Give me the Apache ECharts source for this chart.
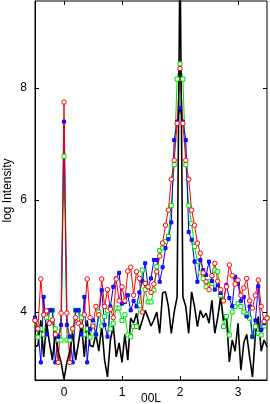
<!DOCTYPE html>
<html><head><meta charset="utf-8">
<script src="https://cdn.jsdelivr.net/npm/echarts@6/dist/echarts.min.js"></script>
<style>html,body{margin:0;padding:0;background:#fff}#c{width:270px;height:404px}</style>
</head><body><div id="c"></div>
<script>
const L = [-0.5,-0.45,-0.4,-0.35,-0.3,-0.25,-0.2,-0.15,-0.1,-0.05,
 0,0.05,0.1,0.15,0.2,0.25,0.3,0.35,0.4,0.45,
 0.5,0.55,0.6,0.65,0.7,0.75,0.8,0.85,0.9,0.95,
 1,1.05,1.1,1.15,1.2,1.25,1.3,1.35,1.4,1.45,
 1.5,1.55,1.6,1.65,1.7,1.75,1.8,1.85,1.9,1.95,
 2,2.05,2.1,2.15,2.2,2.25,2.3,2.35,2.4,2.45,
 2.5,2.55,2.6,2.65,2.7,2.75,2.8,2.85,2.9,2.95,
 3,3.05,3.1,3.15,3.2,3.25,3.3,3.35,3.4,3.45,3.5];
const red = [3.85,3.70,4.59,3.95,4.02,3.80,3.86,3.60,3.10,3.98,
 7.75,3.98,3.10,3.70,3.90,3.80,3.75,3.95,4.59,3.90,
 3.75,4.10,3.95,4.59,4.10,4.40,4.05,3.90,4.59,4.20,
 4.45,4.20,4.73,4.80,4.30,4.72,4.60,4.00,4.51,4.45,
 4.35,4.50,4.72,5.00,5.23,5.55,5.82,6.37,6.71,7.37,
 8.35,7.37,6.71,6.37,5.82,5.55,5.23,5.05,4.70,4.54,
 4.40,4.65,4.87,4.55,4.40,4.20,4.45,4.84,4.65,4.50,
 4.57,4.30,4.43,4.60,4.20,4.07,4.30,4.57,4.10,3.83,3.89];
const blue = [3.90,3.70,3.10,4.27,3.60,4.03,4.03,3.10,3.56,3.77,
 7.40,3.77,3.56,3.10,4.03,4.03,3.60,4.27,3.10,3.70,
 3.85,3.60,3.95,4.39,3.77,3.56,4.10,4.45,4.60,4.70,
 4.15,4.18,4.30,4.03,4.20,4.10,4.35,4.55,4.87,4.45,
 4.60,4.93,4.93,4.54,4.80,5.14,5.30,5.60,7.07,7.40,
 7.64,7.40,7.07,5.43,5.29,4.90,4.54,4.93,4.75,4.66,
 4.90,4.55,4.40,4.48,4.34,4.20,4.48,4.25,4.10,4.63,
 4.50,4.20,4.27,3.92,4.10,3.56,3.85,4.46,3.68,3.80,3.90];
const green = [3.85,3.55,3.70,3.60,3.90,4.03,4.03,3.70,3.50,3.50,
 6.78,3.50,3.50,3.70,4.03,4.03,3.90,3.60,3.70,3.55,
 3.80,3.60,4.00,3.75,3.92,4.03,3.70,3.80,4.07,4.07,
 3.85,3.95,3.59,3.56,3.74,3.74,4.12,4.75,4.40,4.18,
 4.18,4.39,4.81,5.10,5.14,5.26,5.35,5.90,6.63,8.16,
 8.43,8.16,6.63,5.90,5.58,5.17,4.90,4.70,4.60,4.45,
 4.55,4.51,4.75,4.72,4.30,3.74,3.92,3.59,4.00,4.10,
 4.15,4.10,4.00,3.95,3.89,3.56,3.74,3.62,3.59,3.75,3.89];
const black = [3.38,3.40,3.85,3.20,3.80,3.45,3.14,3.62,3.30,3.10,
 2.80,3.10,3.30,3.62,3.14,3.45,3.80,3.20,3.85,3.40,
 3.38,3.60,3.30,3.75,3.14,2.84,3.50,3.75,3.20,3.45,
 3.10,3.60,3.14,3.89,3.80,3.98,3.68,3.85,4.03,3.90,
 3.75,3.86,4.00,3.62,4.34,4.36,4.10,3.62,4.00,4.27,
 10.5,4.27,4.10,3.62,4.36,4.10,3.74,4.03,3.90,3.98,
 3.80,4.21,3.62,3.90,4.27,3.85,3.95,3.11,3.50,3.30,
 3.80,2.96,3.45,3.60,3.20,2.84,3.60,3.92,3.30,3.50,3.38];
const xTicks = [0,1,2,3];
const yTicks = [4,6,8];

const pairs = a => a.map((v,i)=>[L[i],v]);
const FONT = 'Liberation Sans';
const chart = echarts.init(document.getElementById('c'), null, {renderer:'canvas'});
const tickStyle = {show:true, inside:true, length:4, lineStyle:{color:'#000', width:1}};
chart.setOption({
  animation:false,
  backgroundColor:'#fff',
  grid:{left:35, right:3, top:1, bottom:24, containLabel:false, outerBoundsMode:'none',
    show:true, borderColor:'#000', borderWidth:1, backgroundColor:'transparent'},
  xAxis:[{type:'value', min:-0.5, max:3.5, position:'bottom',
    name:'00L', nameLocation:'middle', nameGap:13, nameMoveOverlap:false,
    nameTextStyle:{fontFamily:FONT, fontSize:12, color:'#000'},
    axisLine:{show:true, onZero:false, lineStyle:{color:'#000'}},
    axisTick:Object.assign({customValues:xTicks}, tickStyle),
    axisLabel:{customValues:xTicks, fontFamily:FONT, fontSize:12, color:'#000', margin:7},
    splitLine:{show:false}},
   {type:'value', min:-0.5, max:3.5, position:'top',
    axisLine:{show:false, onZero:false}, axisTick:Object.assign({customValues:xTicks}, tickStyle),
    axisLabel:{show:false}, splitLine:{show:false}}],
  yAxis:[{type:'value', min:2.786, max:9.554, position:'left',
    name:'log Intensity', nameLocation:'middle', nameGap:21, nameMoveOverlap:false,
    nameTextStyle:{fontFamily:FONT, fontSize:12, color:'#000'},
    axisLine:{show:true, onZero:false, lineStyle:{color:'#000'}},
    axisTick:Object.assign({customValues:yTicks}, tickStyle),
    axisLabel:{customValues:yTicks, fontFamily:FONT, fontSize:12, color:'#000', margin:8},
    splitLine:{show:false}},
   {type:'value', min:2.786, max:9.554, position:'right',
    axisLine:{show:false, onZero:false}, axisTick:Object.assign({customValues:yTicks}, tickStyle),
    axisLabel:{show:false}, splitLine:{show:false}}],
  series:[
    {type:'line', data:pairs(green), symbol:'rect', symbolSize:4, showAllSymbol:true,
     lineStyle:{color:'#00e000', width:1}, itemStyle:{color:'#fff', borderColor:'#00e000', borderWidth:1}},
    {type:'line', data:pairs(blue), symbol:'rect', symbolSize:3, showAllSymbol:true,
     lineStyle:{color:'#0000ff', width:1}, itemStyle:{color:'#2020ff', borderColor:'#0000ff', borderWidth:1}},
    {type:'line', data:pairs(red), symbol:'circle', symbolSize:4.5, showAllSymbol:true,
     lineStyle:{color:'#ff0000', width:1}, itemStyle:{color:'#fff', borderColor:'#ff0000', borderWidth:1}},
    {type:'line', data:pairs(black), symbol:'none',
     lineStyle:{color:'#000', width:1.6}}
  ]
});
</script></body></html>
